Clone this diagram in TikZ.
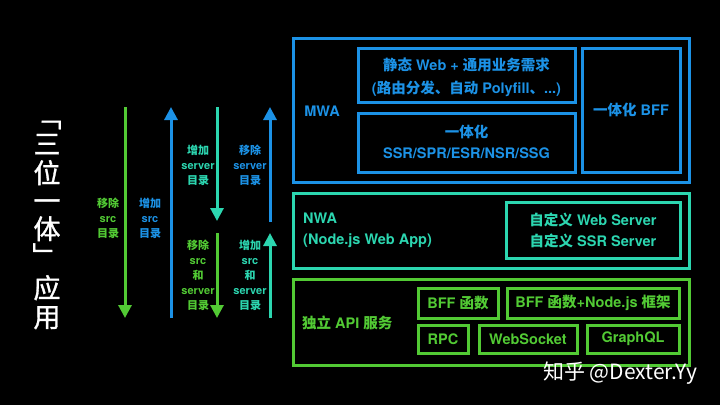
\documentclass[tikz,border=0pt]{standalone}
\usepackage{fontspec}
\setmainfont{TeX Gyre Heros}
\newfontfamily\zh{Noto Sans CJK SC}
\newfontfamily\zhm[FakeBold=1.2]{Noto Sans CJK SC}
\usetikzlibrary{arrows.meta}
\definecolor{cblue}{RGB}{28,146,230}
\definecolor{cteal}{RGB}{44,214,176}
\definecolor{cgreen}{RGB}{82,202,52}
\newcommand{\z}[1]{{\zh #1}}
\tikzset{
  box/.style={draw=#1, line width=3pt},
  btxt/.style={text=#1, font=\bfseries\fontsize{14.5}{21}\selectfont, align=center, inner sep=0pt},
  ltxt/.style={text=#1, font=\bfseries\fontsize{11}{15}\selectfont, align=center, inner sep=0pt},
  arr/.style={draw=#1, line width=3pt, -{Triangle[length=13pt,width=13pt]}},
  ttl/.style={text=white, font=\zhm\fontsize{27}{27}\selectfont, inner sep=0pt, text height=21pt, text depth=3pt},
}
\begin{document}
\begin{tikzpicture}[x=1pt,y=-1pt]
\fill[black] (0,0) rectangle (720,405);
\useasboundingbox (0,0) rectangle (720,405);
% title
\node[ttl] (t0) at (48,118) {﹁};
\node[ttl] (t1) at (47,145) {三};
\node[ttl] (t2) at (47,174) {位};
\node[ttl] (t3) at (47,202) {一};
\node[ttl] (t4) at (47,230) {体};
\node[ttl] (t5) at (46,257) {﹂};
\node[ttl] (t6) at (47,289) {应};
\node[ttl] (t7) at (47,318) {用};
% MWA
\draw[box=cblue] (293,38) rectangle (689,182);
\node[btxt=cblue] (mwa) at (322,111) {MWA};
\draw[box=cblue] (358,48) rectangle (575,102);
\node[btxt=cblue, font=\bfseries\fontsize{14.5}{23}\selectfont] (web) at (466.5,77) {\z{静态} Web + \z{通用业务需求}\\(\z{路由分发、自动} Polyfill\z{、}...)};
\draw[box=cblue] (358,113) rectangle (575,172);
\node[btxt=cblue] (ssr) at (466.5,142) {\z{一体化}\\SSR/SPR/ESR/NSR/SSG};
\draw[box=cblue] (582,48) rectangle (680,172);
\node[btxt=cblue] (bff) at (631,110) {\z{一体化} BFF};
% NWA
\draw[box=cteal] (293,193) rectangle (689,268);
\node[btxt=cteal, align=left, anchor=west] (nwa) at (303,230) {NWA\\(Node.js Web App)};
\draw[box=cteal] (506,202) rectangle (680,258);
\node[btxt=cteal] (srv) at (593,230) {\z{自定义} Web Server\\\z{自定义} SSR Server};
% API
\draw[box=cgreen] (293,279) rectangle (689,365);
\node[btxt=cgreen, anchor=west] (api) at (302,323) {\z{独立} API \z{服务}};
\draw[box=cgreen] (418,288) rectangle (498,318);
\node[btxt=cgreen] (b1) at (458,303) {BFF \z{函数}};
\draw[box=cgreen] (507,288) rectangle (679,318);
\node[btxt=cgreen] (b2) at (593,303) {BFF \z{函数}+Node.js \z{框架}};
\draw[box=cgreen] (418,325) rectangle (468,353);
\node[btxt=cgreen] (b3) at (443,339) {RPC};
\draw[box=cgreen] (479,325) rectangle (577,353);
\node[btxt=cgreen] (b4) at (528,339) {WebSocket};
\draw[box=cgreen] (587,325) rectangle (679,353);
\node[btxt=cgreen] (b5) at (633,339) {GraphQL};
% arrows
\coordinate (a1s) at (125,107); \coordinate (a1e) at (125,318);
\draw[arr=cgreen] (a1s) -- (a1e);
\node[ltxt=cgreen] (l1) at (108,218) {\z{移除}\\src\\\z{目录}};
\coordinate (a2s) at (171,318); \coordinate (a2e) at (171,107);
\draw[arr=cblue] (a2s) -- (a2e);
\node[ltxt=cblue] (l2) at (150,218) {\z{增加}\\src\\\z{目录}};
\coordinate (a3s) at (217,107); \coordinate (a3e) at (217,221);
\draw[arr=cteal] (a3s) -- (a3e);
\node[ltxt=cteal] (l3) at (198,165) {\z{增加}\\server\\\z{目录}};
\coordinate (a4s) at (270,222); \coordinate (a4e) at (270,107);
\draw[arr=cblue] (a4s) -- (a4e);
\node[ltxt=cblue] (l4) at (250,165) {\z{移除}\\server\\\z{目录}};
\coordinate (a5s) at (217,233); \coordinate (a5e) at (217,318);
\draw[arr=cgreen] (a5s) -- (a5e);
\node[ltxt=cgreen] (l5) at (198,275) {\z{移除}\\src\\\z{和}\\server\\\z{目录}};
\coordinate (a6s) at (270,318); \coordinate (a6e) at (270,233);
\draw[arr=cteal] (a6s) -- (a6e);
\node[ltxt=cteal] (l6) at (250,275) {\z{增加}\\src\\\z{和}\\server\\\z{目录}};
% watermark
\node[text=white, font=\zh\fontsize{21}{21}\selectfont, inner sep=0pt] (wm) at (620,373) {知乎 @Dexter.Yy};
\end{tikzpicture}
\end{document}
